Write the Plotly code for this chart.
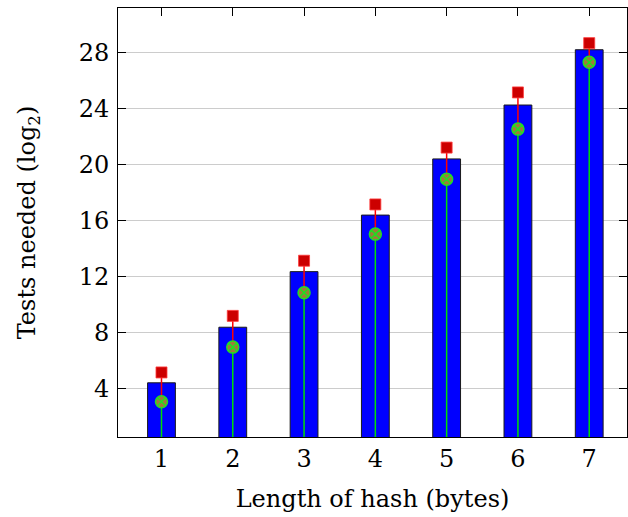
import plotly.graph_objects as go

# Data
hash_lengths = [1, 2, 3, 4, 5, 6, 7]
bar_values = [4.38, 8.35, 12.32, 16.36, 20.37, 24.22, 28.17]
green_values = [3.03, 6.93, 10.82, 15.0, 18.92, 22.5, 27.28]
red_values = [5.12, 9.16, 13.1, 17.12, 21.18, 25.12, 28.64]
y_ticks = [4, 8, 12, 16, 20, 24, 28]

FONT = "DejaVu Serif"
FS = 24

fig = go.Figure()

fig.add_trace(go.Bar(
    x=hash_lengths, y=bar_values, width=0.39,
    marker=dict(color="#0000ff", line=dict(color="#1a1a1a", width=1)),
    showlegend=False, hoverinfo="skip",
))

# green segments: from 0 up to the green marker
gx, gy = [], []
for x, g in zip(hash_lengths, green_values):
    gx += [x, x, None]
    gy += [0, g, None]
fig.add_trace(go.Scatter(x=gx, y=gy, mode="lines",
                         line=dict(color="#00e000", width=1.5),
                         showlegend=False, hoverinfo="skip"))

# red segments: from green marker up to red marker
rx, ry = [], []
for x, g, r in zip(hash_lengths, green_values, red_values):
    rx += [x, x, None]
    ry += [g, r, None]
fig.add_trace(go.Scatter(x=rx, y=ry, mode="lines",
                         line=dict(color="#ff0000", width=1.5),
                         showlegend=False, hoverinfo="skip"))

fig.add_trace(go.Scatter(
    x=hash_lengths, y=green_values, mode="markers",
    marker=dict(symbol="circle-x", size=12, color="#a07a3a",
                line=dict(color="#22dd22", width=1.5)),
    showlegend=False, hoverinfo="skip",
))

fig.add_trace(go.Scatter(
    x=hash_lengths, y=red_values, mode="markers",
    marker=dict(symbol="square", size=11, color="#cc0000",
                line=dict(color="rgba(255,60,60,0.8)", width=1)),
    showlegend=False, hoverinfo="skip",
))

fig.update_layout(
    width=628, height=517,
    margin=dict(l=118, r=1, t=8, b=80),
    paper_bgcolor="white", plot_bgcolor="white",
    font=dict(family=FONT, size=FS, color="black"),
    bargap=0,
)

fig.update_xaxes(
    range=[0.39, 7.53], automargin=False,
    tickmode="array", tickvals=hash_lengths,
    ticks="inside", ticklen=8, tickcolor="black", tickwidth=1,
    showline=True, linecolor="black", linewidth=1, mirror="ticks",
    showgrid=False, zeroline=False, layer="below traces",
    title=dict(text="Length of hash (bytes)", font=dict(family=FONT, size=FS), standoff=18),
    tickfont=dict(family=FONT, size=FS),
)

fig.update_yaxes(
    range=[0.51, 31.15], automargin=False,
    tickmode="array", tickvals=y_ticks,
    ticks="inside", ticklen=8, tickcolor="black", tickwidth=1,
    showline=True, linecolor="black", linewidth=1, mirror="ticks",
    showgrid=True, gridcolor="#cccccc", gridwidth=1, zeroline=False,
    title=dict(text="Tests needed (log<sub>2</sub>)", font=dict(family=FONT, size=FS), standoff=36),
    tickfont=dict(family=FONT, size=FS),
    ticklabelstandoff=3,
)

post = (
    "document.body.style.margin='0';"
    "document.body.style.overflow='hidden';"
    "Plotly.relayout('{plot_id}', {width: 628, height: 517});"
)

fig.write_html("out.html", post_script=post,
               config={"displayModeBar": False, "staticPlot": True})
